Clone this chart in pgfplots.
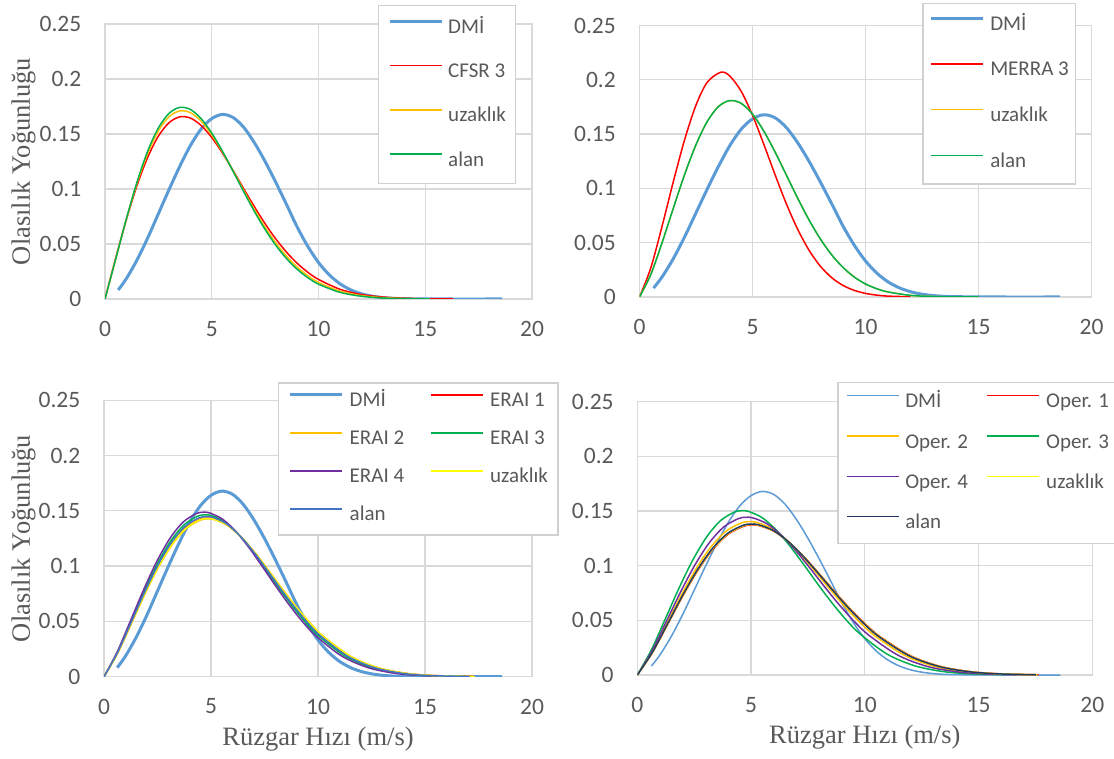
\documentclass[border=0pt]{standalone}
\usepackage{fontspec}
\setmainfont{Carlito}
\newfontfamily\tnr{Liberation Serif}
\usepackage{pgfplots}
\usepackage{pgfplotstable}
\pgfplotsset{compat=1.18}

\definecolor{txt}{HTML}{595959}
\definecolor{grd}{HTML}{D9D9D9}
\definecolor{lgd}{HTML}{D0D0D0}
\definecolor{dmi}{HTML}{5B9BD5}
\definecolor{cred}{HTML}{FF0000}
\definecolor{corange}{HTML}{FFC000}
\definecolor{cgreen}{HTML}{00B050}
\definecolor{cpurple}{HTML}{7030A0}
\definecolor{cyellow}{HTML}{FFFF00}
\definecolor{calan}{HTML}{4472C4}
\definecolor{cnavy}{HTML}{203864}

% DMI observed distribution (same in all four panels)
\pgfplotstableread{
x y
0.62 0.0082
1 0.0185
1.5 0.0355
2 0.0555
2.5 0.0775
3 0.0995
3.5 0.1205
4 0.1395
4.5 0.1545
5 0.1640
5.5 0.1678
6 0.1650
6.5 0.1560
7 0.1420
7.5 0.1250
8 0.1060
8.5 0.0860
9 0.0655
9.5 0.0478
10 0.0332
10.5 0.0220
11 0.0139
11.5 0.0084
12 0.0048
12.5 0.0026
13 0.0013
13.5 0.0006
14 0.0003
15 0.0001
16 0
18.6 0
}\dmi

\tikzset{
  lblfont/.style={font=\tnr\fontsize{26.5}{30}\selectfont, text=txt, inner sep=0pt},
  thickdmi/.style={dmi, line width=3pt},
}

\pgfplotsset{
  panel/.style={
    scale only axis,
    xmin=0, xmax=20, ymin=0, ymax=0.25,
    xtick={0,5,10,15,20}, xticklabels={0,5,10,15,20},
    ytick={0,0.05,0.1,0.15,0.2,0.25}, yticklabels={0,0.05,0.1,0.15,0.2,0.25},
    major tick length=0pt,
    grid=major,
    grid style={grd, line width=1.3pt},
    axis line style={grd, line width=1.3pt},
    tick label style={font=\fontsize{23.5}{28}\selectfont, text=txt},
    yticklabel style={anchor=east, inner sep=0pt, xshift=-23.5pt},
    xticklabel style={anchor=north, inner sep=0pt, yshift=-22pt},
    legend cell align=left,
    legend style={draw=lgd, line width=1.5pt, fill=white, text=txt,
      font=\fontsize{21}{25}\selectfont, anchor=north west,
      nodes={inner sep=0pt, text height=15pt, text depth=5pt}},
    legend image code/.code={\draw[#1] (0pt,7pt) -- (52pt,7pt);},
    every axis plot/.append style={line width=1.5pt, smooth, no markers},
  },
}

\begin{document}
\begin{tikzpicture}
\path[use as bounding box] (0,0) rectangle (1114pt,758pt);

% top left: CFSR
\begin{axis}[panel, width=427pt, height=275pt, at={(105pt,459pt)}, anchor=south west,
  ylabel={Olasılık Yoğunluğu},
  every axis y label/.style={at={(axis description cs:-0.1909,0.5)}, rotate=90, anchor=center, lblfont},
  legend style={at={(0.6393,1.0691)}, inner xsep=9.5pt, inner ysep=12.5pt, row sep=24.3pt, column sep=5pt}]
\addplot[thickdmi] table {\dmi};
\addlegendentry{DMİ}
\addplot[cred] coordinates {(0,0)(0.5,0.0371)(1,0.0721)(1.5,0.1032)(2,0.1288)(2.5,0.1481)(3,0.1603)(3.5,0.1656)(4,0.1645)(4.5,0.1578)(5,0.1468)(5.5,0.1327)(6,0.1168)(6.5,0.1001)(7,0.0838)(7.5,0.0684)(8,0.0546)(8.5,0.0426)(9,0.0325)(9.5,0.0243)(10,0.0178)(11,0.0089)(12,0.0041)(13,0.0018)(14,0.0007)(15,0.0002)(16.3,0)};
\addlegendentry{CFSR 3}
\addplot[corange] coordinates {(0,0)(0.5,0.0365)(1,0.0726)(1.5,0.1052)(2,0.1324)(2.5,0.1528)(3,0.1657)(3.5,0.1710)(4,0.1694)(4.5,0.1617)(5,0.1493)(5.5,0.1338)(6,0.1164)(6.5,0.0985)(7,0.0811)(7.5,0.0651)(8,0.0509)(8.5,0.0389)(9,0.0290)(9.5,0.0212)(10,0.0151)(11,0.0071)(12,0.0031)(13,0.0012)(14,0.0004)(15.2,0.0001)};
\addlegendentry{uzaklık}
\addplot[cgreen] coordinates {(0,0)(0.5,0.0362)(1,0.0729)(1.5,0.1064)(2,0.1345)(2.5,0.1555)(3,0.1688)(3.5,0.1742)(4,0.1723)(4.5,0.1640)(5,0.1508)(5.5,0.1344)(6,0.1161)(6.5,0.0975)(7,0.0795)(7.5,0.0632)(8,0.0488)(8.5,0.0368)(9,0.0270)(9.5,0.0194)(10,0.0135)(11,0.0061)(12,0.0025)(13,0.0009)(14,0.0003)(15.2,0.0001)};
\addlegendentry{alan}
\end{axis}

% top right: MERRA
\begin{axis}[panel, width=452pt, height=271.5pt, at={(639.5pt,461pt)}, anchor=south west,
  legend style={at={(0.625,1.0829)}, inner xsep=6.5pt, inner ysep=11.5pt, row sep=25.7pt, column sep=6pt}]
\addplot[thickdmi] table {\dmi};
\addlegendentry{DMİ}
\addplot[cred] coordinates {(0,0)(0.5,0.0268)(1,0.0653)(1.5,0.1065)(2,0.1451)(2.5,0.1767)(3,0.1978)(3.6,0.2070)(4,0.2034)(4.5,0.1894)(5,0.1674)(5.5,0.1406)(6,0.1125)(6.5,0.0857)(7,0.0623)(7.5,0.0431)(8,0.0284)(8.5,0.0179)(9,0.0107)(9.5,0.0061)(10,0.0033)(10.5,0.0017)(11,0.0008)(12,0.0002)};
\addlegendentry{MERRA 3}
\addplot[corange] coordinates {(0,0)(0.5,0.0207)(1,0.0501)(1.5,0.0820)(2,0.1130)(2.5,0.1403)(3,0.1617)(3.5,0.1755)(4,0.1809)(4.5,0.1783)(5,0.1684)(5.5,0.1528)(6,0.1334)(6.5,0.1122)(7,0.0909)(7.5,0.0710)(8,0.0535)(8.5,0.0389)(9,0.0273)(9.5,0.0184)(10,0.0120)(10.5,0.0076)(11,0.0046)(12,0.0015)(13,0.0004)(14,0.0001)(15,0)};
\addlegendentry{uzaklık}
\addplot[cgreen] coordinates {(0,0)(0.5,0.0207)(1,0.0501)(1.5,0.0820)(2,0.1130)(2.5,0.1403)(3,0.1617)(3.5,0.1755)(4,0.1809)(4.5,0.1783)(5,0.1684)(5.5,0.1528)(6,0.1334)(6.5,0.1122)(7,0.0909)(7.5,0.0710)(8,0.0535)(8.5,0.0389)(9,0.0273)(9.5,0.0184)(10,0.0120)(10.5,0.0076)(11,0.0046)(12,0.0015)(13,0.0004)(14,0.0001)(15,0)};
\addlegendentry{alan}
\end{axis}

% bottom left: ERA-Interim
\begin{axis}[panel, width=428pt, height=276.5pt, at={(104pt,81.3pt)}, anchor=south west,
  ylabel={Olasılık Yoğunluğu}, xlabel={Rüzgar Hızı (m/s)},
  every axis y label/.style={at={(axis description cs:-0.1881,0.5)}, rotate=90, anchor=center, lblfont},
  every axis x label/.style={at={(axis description cs:0.5,-0.1808)}, anchor=north, lblfont},
  legend columns=2,
  legend style={at={(0.4065,1.0658)}, inner xsep=10pt, inner ysep=9pt, row sep=18pt, column sep=6pt,
    /tikz/every even column/.append style={column sep=26.5pt}}]
\addplot[thickdmi] table {\dmi};
\addlegendentry{DMİ}
\addplot[cred] coordinates {(0,0)(0.639,0.02159)(1.278,0.04848)(1.917,0.07564)(2.556,0.10035)(3.195,0.12055)(3.834,0.13475)(4.473,0.14218)(4.793,0.14334)(5.112,0.14282)(5.751,0.13726)(6.39,0.12665)(7.029,0.11246)(7.668,0.09622)(8.307,0.07944)(8.946,0.06337)(9.585,0.04880)(10.224,0.03636)(11.502,0.01822)(12.78,0.00799)(14.058,0.00307)(15.336,0.00103)(17.253,0.00016)};
\addlegendentry{ERAI 1}
\addplot[corange] coordinates {(0,0)(0.642,0.02149)(1.284,0.04826)(1.926,0.07529)(2.568,0.09989)(3.21,0.11999)(3.852,0.13412)(4.494,0.14152)(4.815,0.14267)(5.136,0.14215)(5.778,0.13663)(6.42,0.12606)(7.062,0.11194)(7.704,0.09578)(8.346,0.07908)(8.988,0.06308)(9.63,0.04858)(10.272,0.03619)(11.556,0.01814)(12.84,0.00795)(14.124,0.00305)(15.408,0.00103)(17.334,0.00016)};
\addlegendentry{ERAI 2}
\addplot[cgreen] coordinates {(0,0)(0.626,0.02204)(1.252,0.04949)(1.878,0.07721)(2.504,0.10244)(3.13,0.12306)(3.756,0.13755)(4.382,0.14513)(4.695,0.14632)(5.008,0.14579)(5.634,0.14012)(6.26,0.12929)(6.886,0.11480)(7.512,0.09822)(8.138,0.08110)(8.764,0.06469)(9.39,0.04982)(10.016,0.03711)(11.268,0.01860)(12.52,0.00816)(13.772,0.00313)(15.024,0.00105)(16.902,0.00016)};
\addlegendentry{ERAI 3}
\addplot[cpurple] coordinates {(0,0)(0.616,0.02240)(1.232,0.05029)(1.848,0.07846)(2.464,0.10410)(3.08,0.12505)(3.696,0.13979)(4.312,0.14749)(4.62,0.14870)(4.928,0.14816)(5.544,0.14239)(6.16,0.13139)(6.776,0.11666)(7.392,0.09982)(8.008,0.08241)(8.624,0.06574)(9.24,0.05063)(9.856,0.03771)(11.088,0.01890)(12.32,0.00829)(13.552,0.00318)(14.784,0.00107)(16.632,0.00016)};
\addlegendentry{ERAI 4}
\addplot[cyellow] coordinates {(0,0)(0.64,0.02156)(1.28,0.04841)(1.92,0.07552)(2.56,0.10020)(3.2,0.12036)(3.84,0.13454)(4.48,0.14196)(4.8,0.14312)(5.12,0.14260)(5.76,0.13705)(6.4,0.12646)(7.04,0.11228)(7.68,0.09608)(8.32,0.07932)(8.96,0.06327)(9.6,0.04873)(10.24,0.03630)(11.52,0.01819)(12.8,0.00798)(14.08,0.00306)(15.36,0.00103)(17.28,0.00016)};
\addlegendentry{uzaklık}
\addplot[calan] coordinates {(0,0)(0.633,0.02179)(1.266,0.04894)(1.899,0.07636)(2.532,0.10131)(3.165,0.12170)(3.798,0.13603)(4.431,0.14353)(4.748,0.14470)(5.064,0.14418)(5.697,0.13857)(6.33,0.12786)(6.963,0.11353)(7.596,0.09714)(8.229,0.08020)(8.862,0.06397)(9.495,0.04927)(10.128,0.03670)(11.394,0.01839)(12.66,0.00807)(13.926,0.00310)(15.192,0.00104)(17.091,0.00016)};
\addlegendentry{alan}
\end{axis}

% bottom right: operational analysis
\begin{axis}[panel, width=455pt, height=273.5pt, at={(637.3pt,83pt)}, anchor=south west,
  xlabel={Rüzgar Hızı (m/s)},
  every axis x label/.style={at={(axis description cs:0.5,-0.1828)}, anchor=north, lblfont},
  legend columns=2,
  legend style={at={(0.4389,1.0713)}, inner xsep=8pt, inner ysep=10pt, row sep=20.3pt, column sep=6pt,
    /tikz/every even column/.append style={column sep=18.6pt}}]
\addplot[dmi] table {\dmi};
\addlegendentry{DMİ}
\addplot[cred] coordinates {(0,0)(0.668,0.02065)(1.336,0.04638)(2.004,0.07236)(2.672,0.09600)(3.34,0.11532)(4.008,0.12890)(4.676,0.13601)(5.01,0.13712)(5.344,0.13662)(6.012,0.13131)(6.68,0.12116)(7.348,0.10758)(8.016,0.09205)(8.684,0.07600)(9.352,0.06062)(10.02,0.04668)(10.688,0.03478)(12.024,0.01743)(13.36,0.00764)(14.696,0.00293)(16.032,0.00099)(17.635,0.00022)};
\addlegendentry{Oper. 1}
\addplot[corange] coordinates {(0,0)(0.6535,0.02111)(1.307,0.04741)(1.9605,0.07396)(2.614,0.09813)(3.2675,0.11788)(3.921,0.13176)(4.5745,0.13903)(4.901,0.14016)(5.228,0.13965)(5.8815,0.13422)(6.535,0.12385)(7.1885,0.10997)(7.842,0.09409)(8.4955,0.07768)(9.149,0.06197)(9.8025,0.04772)(10.456,0.03555)(11.763,0.01782)(13.07,0.00781)(14.377,0.00300)(15.684,0.00101)(17.252,0.00023)};
\addlegendentry{Oper. 2}
\addplot[cgreen] coordinates {(0,0)(0.61,0.02262)(1.22,0.05079)(1.83,0.07923)(2.44,0.10513)(3.05,0.12628)(3.66,0.14116)(4.27,0.14894)(4.575,0.15016)(4.88,0.14961)(5.49,0.14379)(6.1,0.13268)(6.71,0.11781)(7.32,0.10080)(7.93,0.08322)(8.54,0.06638)(9.15,0.05112)(9.76,0.03809)(10.98,0.01909)(12.2,0.00837)(13.42,0.00321)(14.64,0.00108)(16.104,0.00024)};
\addlegendentry{Oper. 3}
\addplot[cpurple] coordinates {(0,0)(0.6354,0.02171)(1.2708,0.04876)(1.9062,0.07607)(2.5416,0.10092)(3.177,0.12124)(3.8124,0.13552)(4.4478,0.14299)(4.7655,0.14416)(5.0832,0.14363)(5.7186,0.13805)(6.354,0.12737)(6.9894,0.11310)(7.6248,0.09677)(8.2602,0.07990)(8.8956,0.06373)(9.531,0.04908)(10.1664,0.03656)(11.4372,0.01832)(12.708,0.00803)(13.9788,0.00309)(15.2496,0.00104)(16.7746,0.00023)};
\addlegendentry{Oper. 4}
\addplot[cyellow] coordinates {(0,0)(0.666,0.02071)(1.332,0.04652)(1.998,0.07257)(2.664,0.09629)(3.33,0.11567)(3.996,0.12929)(4.662,0.13642)(4.995,0.13753)(5.328,0.13703)(5.994,0.13170)(6.66,0.12152)(7.326,0.10790)(7.992,0.09232)(8.658,0.07623)(9.324,0.06080)(9.99,0.04682)(10.656,0.03488)(11.988,0.01748)(13.32,0.00767)(14.652,0.00294)(15.984,0.00099)(17.582,0.00022)};
\addlegendentry{uzaklık}
\addplot[cnavy] coordinates {(0,0)(0.664,0.02078)(1.328,0.04666)(1.992,0.07279)(2.656,0.09658)(3.32,0.11601)(3.984,0.12968)(4.648,0.13683)(4.98,0.13795)(5.312,0.13744)(5.976,0.13210)(6.64,0.12189)(7.304,0.10823)(7.968,0.09260)(8.632,0.07646)(9.296,0.06099)(9.96,0.04697)(10.624,0.03499)(11.952,0.01754)(13.28,0.00769)(14.608,0.00295)(15.936,0.00099)(17.53,0.00022)};
\addlegendentry{alan}
\end{axis}
\end{tikzpicture}
\end{document}
